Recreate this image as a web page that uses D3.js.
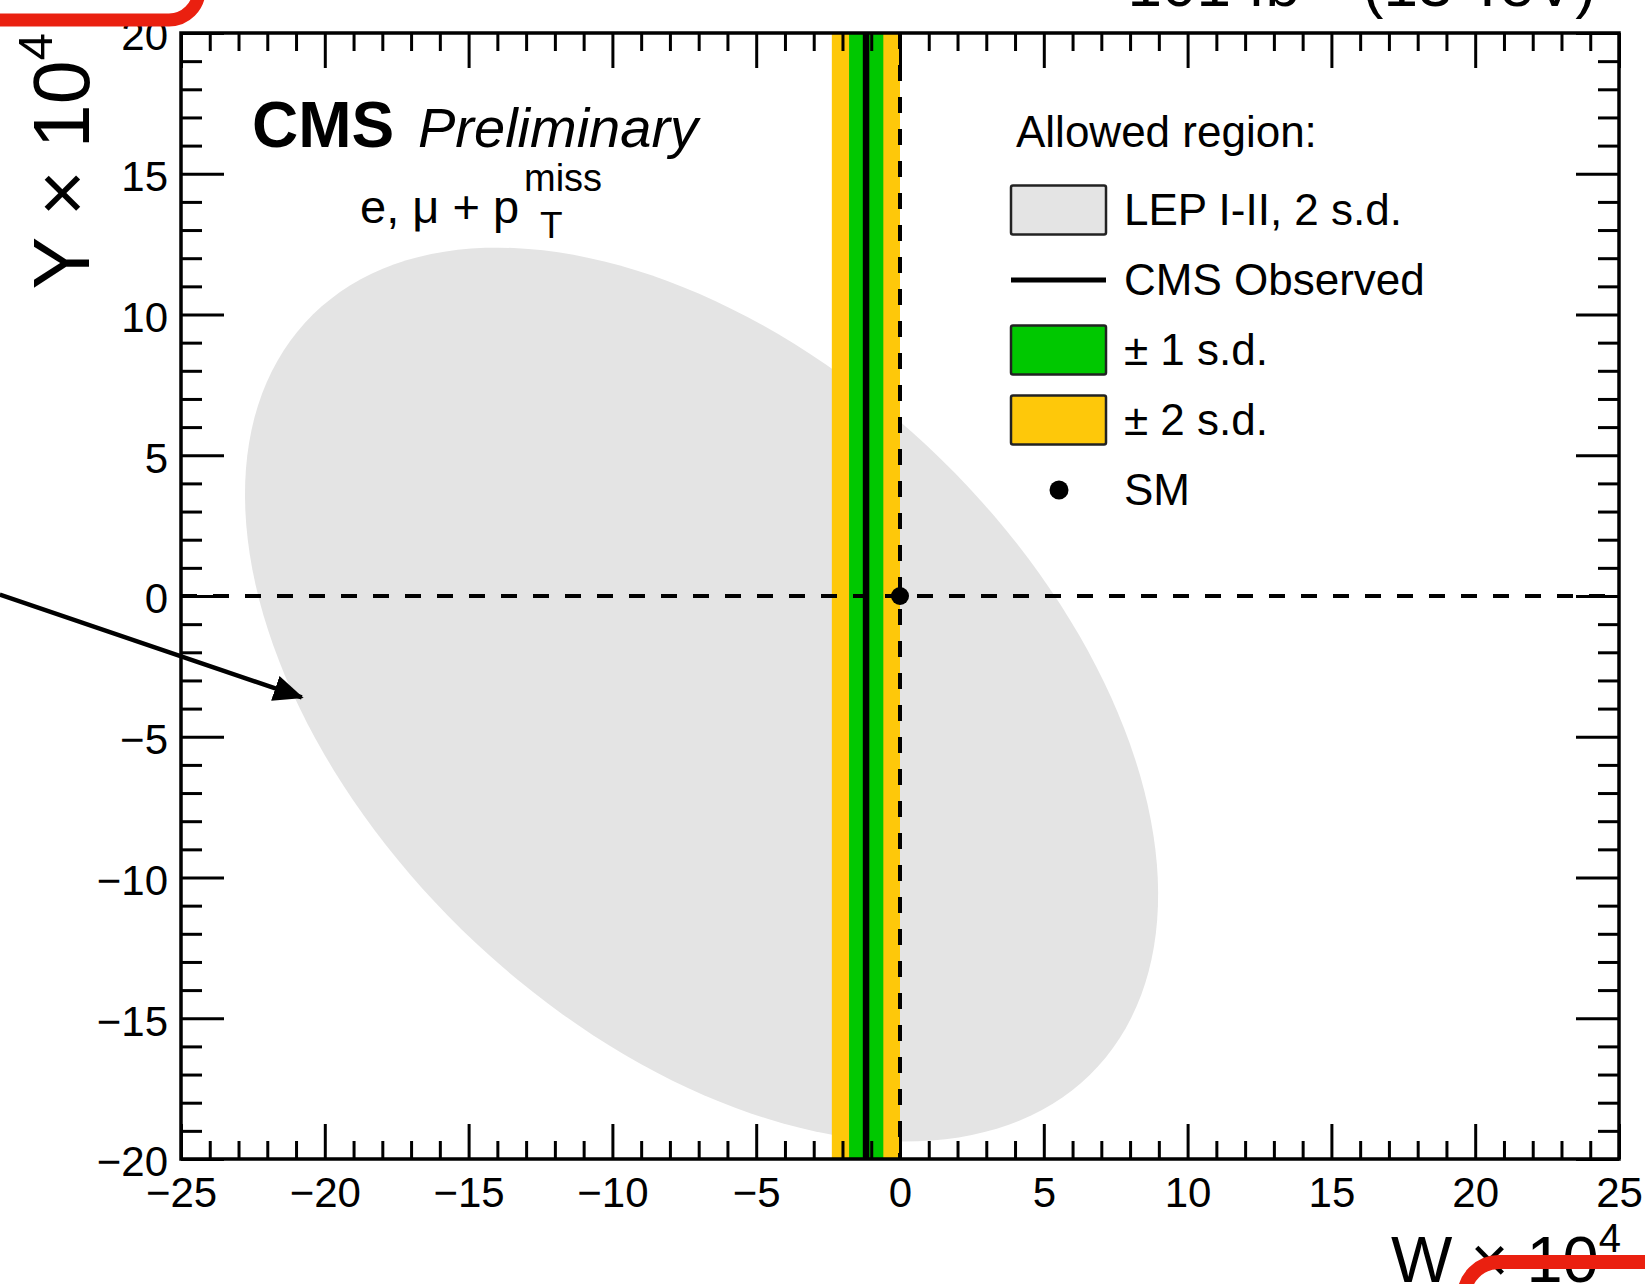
<!DOCTYPE html>
<html>
<head>
<meta charset="utf-8">
<script src="https://cdn.jsdelivr.net/npm/d3@7"></script>
<style>
  body { margin: 0; background: #fff; }
  svg { display: block; font-family: "Liberation Sans", Arial, Helvetica, sans-serif; }
</style>
</head>
<body>
<svg id="chart" width="1645" height="1284"></svg>
<script>

// ---- values ----
var wRange = [-25, 25];
var yRange = [-20, 20];
var majorStep = 5;
var minorStep = 1;

// LEP I-II 2 s.d. allowed region (ellipse in W,Y units)
var lepCentre = [-6.9, -3.5];
var lepSemiAxes = [19.1, 11.8];
var lepAngleDeg = -45;

// CMS observed and bands (W only)
var cmsObserved = -1.18;
var cms1sd = [-1.77, -0.58];
var cms2sd = [-2.37, 0.0];

var smPoint = [0, 0];

// annotation arrow (in W,Y units)
var arrowFrom = [-31.3, 0.05];
var arrowTo = [-20.8, -3.6];

var legendLabels = ["LEP I-II, 2 s.d.", "CMS Observed", "\u00b1 1 s.d.", "\u00b1 2 s.d.", "SM"];
var legendKinds = ["box-grey", "line", "box-green", "box-yellow", "dot"];

var grey = "#e4e4e4", green = "#00c800", yellow = "#fec80a", red = "#ea2010";

// ---- layout ----
var pLeft = 181, pRight = 1619, pTop = 33, pBottom = 1159;

var svg = d3.select("#chart");

var x = d3.scaleLinear().domain(wRange).range([pLeft, pRight]);
var y = d3.scaleLinear().domain(yRange).range([pBottom, pTop]);

var defs = svg.append("defs");
defs.append("clipPath").attr("id", "plotclip")
  .append("rect").attr("x", pLeft).attr("y", pTop)
  .attr("width", pRight - pLeft).attr("height", pBottom - pTop);

var plot = svg.append("g").attr("clip-path", "url(#plotclip)");

// ellipse
var th = lepAngleDeg * Math.PI / 180;
var ellPts = d3.range(0, 360, 2).map(function(deg) {
  var t = deg * Math.PI / 180;
  var u = lepSemiAxes[0] * Math.cos(t), v = lepSemiAxes[1] * Math.sin(t);
  return [lepCentre[0] + u * Math.cos(th) - v * Math.sin(th),
          lepCentre[1] + u * Math.sin(th) + v * Math.cos(th)];
});
plot.append("path")
  .attr("d", d3.line().x(function(d){ return x(d[0]); }).y(function(d){ return y(d[1]); }).curve(d3.curveLinearClosed)(ellPts))
  .attr("fill", grey);

// bands
plot.append("rect")
  .attr("x", x(cms2sd[0])).attr("width", x(cms2sd[1]) - x(cms2sd[0]))
  .attr("y", pTop).attr("height", pBottom - pTop).attr("fill", yellow);
plot.append("rect")
  .attr("x", x(cms1sd[0])).attr("width", x(cms1sd[1]) - x(cms1sd[0]))
  .attr("y", pTop).attr("height", pBottom - pTop).attr("fill", green);

// dashed SM lines
plot.append("line")
  .attr("x1", x(wRange[0])).attr("x2", x(wRange[1]))
  .attr("y1", y(0)).attr("y2", y(0))
  .attr("stroke", "#000").attr("stroke-width", 4).attr("stroke-dasharray", "16,16");
plot.append("line")
  .attr("x1", x(0)).attr("x2", x(0))
  .attr("y1", y(yRange[1])).attr("y2", y(yRange[0]))
  .attr("stroke", "#000").attr("stroke-width", 4).attr("stroke-dasharray", "16,16");

// observed
plot.append("line")
  .attr("x1", x(cmsObserved)).attr("x2", x(cmsObserved))
  .attr("y1", pTop).attr("y2", pBottom)
  .attr("stroke", "#000").attr("stroke-width", 6.5);

// SM point
plot.append("circle")
  .attr("cx", x(smPoint[0])).attr("cy", y(smPoint[1])).attr("r", 9).attr("fill", "#000");

// ---- axes ----
var majX = d3.range(wRange[0], wRange[1] + 0.01, majorStep);
var minX = d3.range(wRange[0], wRange[1] + 0.01, minorStep).filter(function(v){ return v % majorStep !== 0; });
var majY = d3.range(yRange[0], yRange[1] + 0.01, majorStep);
var minY = d3.range(yRange[0], yRange[1] + 0.01, minorStep).filter(function(v){ return v % majorStep !== 0; });

function styleAxis(g) {
  g.select(".domain").remove();
  g.selectAll(".tick line").attr("stroke", "#000").attr("stroke-width", 3);
  g.selectAll(".tick text").attr("fill", "#000").attr("font-size", 42)
    .attr("font-family", "Liberation Sans, Arial, sans-serif");
}

var xMajLen = 35, xMinLen = 18, yMajLen = 43, yMinLen = 21;

svg.append("g").attr("transform", "translate(0," + pBottom + ")")
  .call(d3.axisBottom(x).tickValues(majX).tickSizeInner(-xMajLen).tickSizeOuter(0).tickPadding(18))
  .call(styleAxis);
svg.append("g").attr("transform", "translate(0," + pBottom + ")")
  .call(d3.axisBottom(x).tickValues(minX).tickSizeInner(-xMinLen).tickSizeOuter(0).tickFormat(""))
  .call(styleAxis);
svg.append("g").attr("transform", "translate(0," + pTop + ")")
  .call(d3.axisTop(x).tickValues(majX).tickSizeInner(-xMajLen).tickSizeOuter(0).tickFormat(""))
  .call(styleAxis);
svg.append("g").attr("transform", "translate(0," + pTop + ")")
  .call(d3.axisTop(x).tickValues(minX).tickSizeInner(-xMinLen).tickSizeOuter(0).tickFormat(""))
  .call(styleAxis);

svg.append("g").attr("transform", "translate(" + pLeft + ",0)")
  .call(d3.axisLeft(y).tickValues(majY).tickSizeInner(-yMajLen).tickSizeOuter(0).tickPadding(13))
  .call(styleAxis)
  .selectAll(".tick text").attr("dy", "0.40em");
svg.append("g").attr("transform", "translate(" + pLeft + ",0)")
  .call(d3.axisLeft(y).tickValues(minY).tickSizeInner(-yMinLen).tickSizeOuter(0).tickFormat(""))
  .call(styleAxis);
svg.append("g").attr("transform", "translate(" + pRight + ",0)")
  .call(d3.axisRight(y).tickValues(majY).tickSizeInner(-yMajLen).tickSizeOuter(0).tickFormat(""))
  .call(styleAxis);
svg.append("g").attr("transform", "translate(" + pRight + ",0)")
  .call(d3.axisRight(y).tickValues(minY).tickSizeInner(-yMinLen).tickSizeOuter(0).tickFormat(""))
  .call(styleAxis);

svg.append("rect")
  .attr("x", pLeft).attr("y", pTop).attr("width", pRight - pLeft).attr("height", pBottom - pTop)
  .attr("fill", "none").attr("stroke", "#000").attr("stroke-width", 3.5);

// axis titles
var xt = svg.append("text").attr("x", 1621).attr("y", 1282).attr("text-anchor", "end").attr("font-size", 65);
xt.append("tspan").text("W \u00d7 10");
xt.append("tspan").attr("font-size", 40).attr("dy", -30).text("4");

var yt = svg.append("text").attr("transform", "translate(89,33) rotate(-90)").attr("text-anchor", "end").attr("font-size", 79);
yt.append("tspan").text("Y \u00d7 10");
yt.append("tspan").attr("font-size", 49).attr("dy", -37).text("4");

// CMS label
svg.append("text").attr("x", 252).attr("y", 147).attr("font-size", 64).attr("font-weight", "bold").text("CMS");
svg.append("text").attr("x", 418).attr("y", 147).attr("font-size", 56).attr("font-style", "italic").text("Preliminary");
svg.append("text").attr("x", 360).attr("y", 223).attr("font-size", 47).text("e, \u03bc + p");
svg.append("text").attr("x", 524).attr("y", 191).attr("font-size", 38).text("miss");
svg.append("text").attr("x", 540).attr("y", 238).attr("font-size", 37).text("T");

// lumi label (cut by the top edge)
var lt = svg.append("text").attr("x", 1596).attr("y", 6).attr("text-anchor", "end").attr("font-size", 62);
lt.append("tspan").text("101 fb");
lt.append("tspan").attr("font-size", 40).attr("dy", -28).text("\u22121");
lt.append("tspan").attr("dy", 28).text(" (13 TeV)");

// legend
var lg = svg.append("g");
lg.append("text").attr("x", 1016).attr("y", 147).attr("font-size", 44).text("Allowed region:");
var rowY = d3.scalePoint().domain(legendLabels).range([210, 490]);
legendLabels.forEach(function(lab, i) {
  var cy = rowY(lab), kind = legendKinds[i];
  if (kind.indexOf("box") === 0) {
    var f = kind === "box-grey" ? grey : kind === "box-green" ? green : yellow;
    lg.append("rect").attr("x", 1011).attr("y", cy - 24.5).attr("width", 95).attr("height", 49)
      .attr("rx", 2).attr("fill", f).attr("stroke", "#222").attr("stroke-width", 2.5);
  } else if (kind === "line") {
    lg.append("line").attr("x1", 1011).attr("x2", 1106).attr("y1", cy).attr("y2", cy)
      .attr("stroke", "#000").attr("stroke-width", 5);
  } else {
    lg.append("circle").attr("cx", 1059).attr("cy", cy).attr("r", 9.5).attr("fill", "#000");
  }
  lg.append("text").attr("x", 1124).attr("y", cy + 15).attr("font-size", 44).text(lab);
});

// annotation arrow
defs.append("marker").attr("id", "ahead")
  .attr("markerUnits", "userSpaceOnUse").attr("markerWidth", 30).attr("markerHeight", 26)
  .attr("viewBox", "0 0 30 26").attr("refX", 28).attr("refY", 13).attr("orient", "auto")
  .append("path").attr("d", "M0,0 L30,13 L0,26 Z").attr("fill", "#000");
svg.append("line")
  .attr("x1", x(arrowFrom[0])).attr("y1", y(arrowFrom[1]))
  .attr("x2", x(arrowTo[0])).attr("y2", y(arrowTo[1]))
  .attr("stroke", "#000").attr("stroke-width", 4.5).attr("marker-end", "url(#ahead)");

// red highlight frames cut by the picture edge
svg.append("rect").attr("x", -200).attr("y", -200).attr("width", 399).attr("height", 220)
  .attr("rx", 30).attr("fill", "none").attr("stroke", red).attr("stroke-width", 13);
svg.append("rect").attr("x", 1464).attr("y", 1262).attr("width", 400).attr("height", 200)
  .attr("rx", 35).attr("fill", "none").attr("stroke", red).attr("stroke-width", 14);

</script>
</body>
</html>
